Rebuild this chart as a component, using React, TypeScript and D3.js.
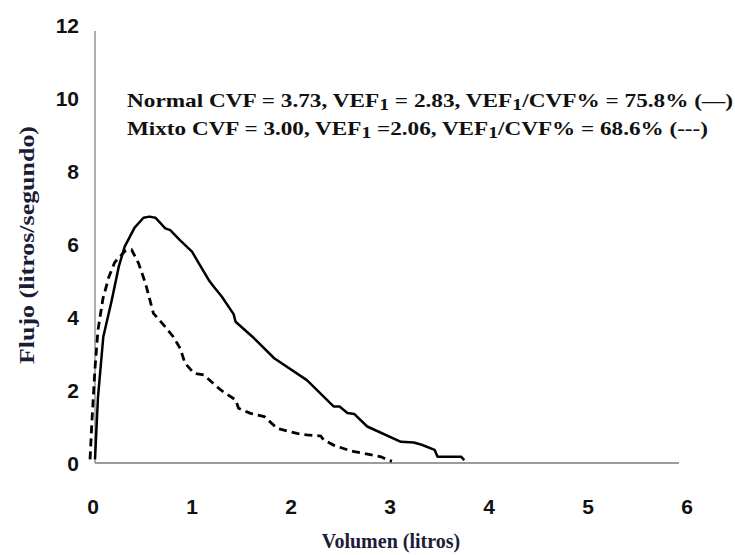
import React from "react";
import * as d3 from "d3";

// Curva flujo-volumen: normal (línea continua) y mixto (línea discontinua)
const normalVol = [0, 0.03, 0.084, 0.17, 0.24, 0.3, 0.4, 0.49, 0.55, 0.61, 0.71, 0.76, 0.86, 0.98, 1.03, 1.15, 1.2, 1.28, 1.4, 1.42, 1.59, 1.81, 2.14, 2.41, 2.47, 2.55, 2.62, 2.75, 3.09, 3.22, 3.3, 3.43, 3.46, 3.7, 3.73];
const normalFlow = [0.1, 1.8, 3.46, 4.47, 5.38, 5.93, 6.45, 6.72, 6.75, 6.72, 6.43, 6.38, 6.1, 5.79, 5.56, 5.01, 4.83, 4.56, 4.08, 3.87, 3.46, 2.87, 2.27, 1.55, 1.55, 1.37, 1.34, 1.0, 0.58, 0.56, 0.5, 0.36, 0.17, 0.17, 0.08];

const mixVol = [-0.05, -0.03, 0.0, 0.03, 0.08, 0.14, 0.2, 0.3, 0.37, 0.44, 0.51, 0.59, 0.71, 0.79, 0.86, 0.91, 1.0, 1.1, 1.27, 1.42, 1.45, 1.57, 1.71, 1.84, 2.04, 2.14, 2.28, 2.31, 2.41, 2.55, 2.62, 2.89, 2.96, 3.0];
const mixFlow = [0.1, 1.2, 2.6, 3.64, 4.5, 5.1, 5.5, 5.8, 5.84, 5.47, 4.92, 4.1, 3.73, 3.46, 3.14, 2.73, 2.46, 2.41, 2.0, 1.73, 1.5, 1.36, 1.27, 0.95, 0.81, 0.77, 0.74, 0.63, 0.49, 0.36, 0.31, 0.17, 0.08, 0.05];

const xTicks = [0, 1, 2, 3, 4, 5, 6];
const yTicks = [0, 2, 4, 6, 8, 10, 12];

const serif = "'Liberation Serif', 'Times New Roman', serif";
const sans = "'Liberation Sans', Arial, sans-serif";

export default function App() {
  const x = d3.scaleLinear().domain([0, 6]).range([95, 689]);
  const y = d3.scaleLinear().domain([0, 12]).range([463, 25]);

  const line = d3
    .line<[number, number]>()
    .x((d) => x(d[0]))
    .y((d) => y(d[1]));

  const normal = normalVol.map((v, i) => [v, normalFlow[i]] as [number, number]);
  const mix = mixVol.map((v, i) => [v, mixFlow[i]] as [number, number]);

  const sub = (t: string) => (
    <tspan fontSize="0.85em" dy={3}>
      {t}
    </tspan>
  );

  return (
    <svg
      width={735}
      height={555}
      style={{ position: "absolute", left: 0, top: 0, background: "#fff" }}
    >
      {/* ejes */}
      <line x1={x(0)} x2={x(6) - 10} y1={y(0)} y2={y(0)} stroke="#7a7a7a" strokeWidth={1.5} />
      <line x1={x(0)} x2={x(0)} y1={y(0)} y2={y(12) + 6} stroke="#7a7a7a" strokeWidth={1.2} />

      {yTicks.map((t) => (
        <text key={t} x={79} y={y(t)} dy="0.36em" textAnchor="end" fontFamily={sans} fontWeight="bold" fontSize={21} fill="#111">
          {t}
        </text>
      ))}
      {xTicks.map((t) => (
        <text key={t} x={x(t) - 2} y={506} dy="0.36em" textAnchor="middle" fontFamily={sans} fontWeight="bold" fontSize={21} fill="#111">
          {t}
        </text>
      ))}

      <text x={391} y={548} textAnchor="middle" fontFamily={serif} fontWeight="bold" fontSize={20} fill="#1c1c38">
        Volumen (litros)
      </text>
      <text
        transform="translate(34,245) rotate(-90)"
        textAnchor="middle"
        fontFamily={serif}
        fontWeight="bold"
        fontSize={21}
        fill="#1c1c38"
        textLength={238}
        lengthAdjust="spacingAndGlyphs"
      >
        Flujo (litros/segundo)
      </text>

      {/* curvas */}
      <path d={line(normal) ?? ""} fill="none" stroke="#000" strokeWidth={2.5} strokeLinejoin="round" />
      <path d={line(mix) ?? ""} fill="none" stroke="#000" strokeWidth={2.8} strokeDasharray="8,5" />

      {/* leyenda */}
      <text x={127} y={107} fontFamily={serif} fontWeight="bold" fontSize={19} fill="#111" textLength={606} lengthAdjust="spacingAndGlyphs">
        Normal CVF = 3.73, VEF{sub("1")}
        <tspan dy={-3}> = 2.83, VEF</tspan>
        {sub("1")}
        <tspan dy={-3}>/CVF% = 75.8% (—)</tspan>
      </text>
      <text x={127} y={135} fontFamily={serif} fontWeight="bold" fontSize={19} fill="#111" textLength={581} lengthAdjust="spacingAndGlyphs">
        Mixto CVF = 3.00, VEF{sub("1")}
        <tspan dy={-3}> =2.06, VEF</tspan>
        {sub("1")}
        <tspan dy={-3}>/CVF% = 68.6% (---)</tspan>
      </text>
    </svg>
  );
}
